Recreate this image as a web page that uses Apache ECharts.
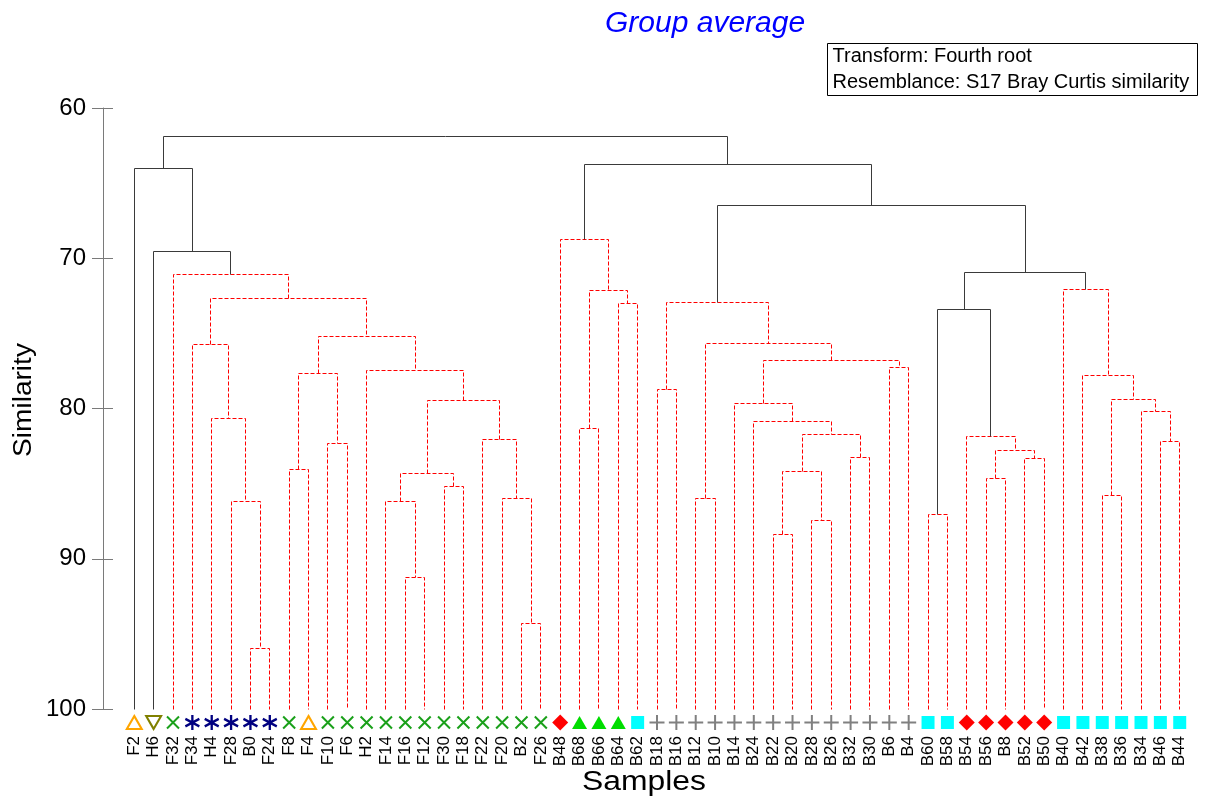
<!DOCTYPE html>
<html>
<head>
<meta charset="utf-8">
<title>Group average</title>
<script src="https://cdn.jsdelivr.net/npm/echarts@6/dist/echarts.min.js"></script>
<style>
  html, body { margin: 0; padding: 0; background: #fff; }
  #chart { width: 1223px; height: 801px; }
</style>
</head>
<body>
<div id="chart"></div>
<script>
// Leaf order of the dendrogram (left to right)
const samples = ['F2','H6','F32','F34','H4','F28','B0','F24','F8','F4','F10','F6','H2','F14','F16','F12','F30','F18','F22','F20','B2','F26',
  'B48','B68','B66','B64','B62','B18','B16','B12','B10','B14','B24','B22','B20','B28','B26','B32','B30','B6','B4',
  'B60','B58','B54','B56','B8','B52','B50','B40','B42','B38','B36','B34','B46','B44'];

// Group of each sample (drives the marker under each leaf)
const sampleGroup = ['A','B','C','D','D','D','D','D','C','A','C','C','C','C','C','C','C','C','C','C','C','C',
  'E','F','F','F','G','H','H','H','H','H','H','H','H','H','H','H','H','H','H',
  'G','G','E','E','E','E','E','G','G','G','G','G','G','G'];

// Agglomeration steps: [child 1, child 2, similarity %]
// a child is a sample name or the index of an earlier step
const merges = [
  ['B0','F24',96.0], ['F28',0,86.18], ['H4',1,80.65], ['F34',2,75.77],
  ['F8','F4',84.05], ['F10','F6',82.34], [4,5,77.68],
  ['F16','F12',91.28], ['F14',7,86.18], ['F30','F18',85.18], [8,9,84.34],
  ['B2','F26',94.28], ['F20',11,85.96], ['F22',12,82.07], [10,13,79.48],
  ['H2',14,77.50], [6,15,75.19], [3,16,72.67], ['F32',17,71.07],
  ['H6',18,69.52], ['F2',19,64.0],
  ['B68','B66',81.34], ['B64','B62',73.04], [21,22,72.16], ['B48',23,68.74],
  ['B18','B16',78.72], ['B12','B10',86.02], ['B22','B20',88.40], ['B28','B26',87.44],
  [27,28,84.16], ['B32','B30',83.27], [29,30,81.72], ['B24',31,80.85], ['B14',32,79.65],
  ['B6','B4',77.26], [33,34,76.79], [26,35,75.69], [25,36,72.93],
  ['B60','B58',87.07], ['B56','B8',84.67], ['B52','B50',83.32], [39,40,82.81],
  ['B54',41,81.85], [38,42,73.40],
  ['B46','B44',82.18], ['B34',44,80.17], ['B38','B36',85.80], [46,45,79.39],
  ['B42',47,77.79], ['B40',48,72.11],
  [43,49,70.92], [37,50,66.48], [24,51,63.75], [20,52,61.91]
];

// Steps with significant internal structure (drawn solid)
const significantSteps = [19, 20, 43, 50, 51, 52, 53];

const yTicks = [60, 70, 80, 90, 100];

// ---- layout helpers: x of a node is the mean of its children's x ----
const leafIndex = {};
samples.forEach((s, i) => { leafIndex[s] = i; });
const stepX = [];
function nodeX(c) { return typeof c === 'string' ? leafIndex[c] : stepX[c]; }
function nodeH(c) { return typeof c === 'string' ? 100 : merges[c][2]; }
merges.forEach((m, i) => { stepX[i] = (nodeX(m[0]) + nodeX(m[1])) / 2; });

const FONT = '"Liberation Sans", Arial, sans-serif';

// marker styles per group
const groupStyle = {
  A: { symbol: 'triangle', size: [15, 13], fill: 'rgba(0,0,0,0)', stroke: '#FFA500', bw: 2, rotate: 0 },
  B: { symbol: 'triangle', size: [15, 13], fill: 'rgba(0,0,0,0)', stroke: '#808000', bw: 2, rotate: 180 },
  C: { symbol: 'path://M0,0L10,10M10,0L0,10', size: [12, 12], fill: 'rgba(0,0,0,0)', stroke: '#1AA01A', bw: 2, rotate: 0 },
  D: { symbol: 'path://M5,0L5,10M0.67,2.5L9.33,7.5M0.67,7.5L9.33,2.5', size: [14, 15], fill: 'rgba(0,0,0,0)', stroke: '#000080', bw: 2.4, rotate: 0 },
  E: { symbol: 'diamond', size: [16, 16], fill: '#FF0000', stroke: '#FF0000', bw: 0, rotate: 0 },
  F: { symbol: 'triangle', size: [15, 13], fill: '#00DD00', stroke: '#00DD00', bw: 0, rotate: 0 },
  G: { symbol: 'rect', size: [13, 13], fill: '#00FFFF', stroke: '#00FFFF', bw: 0, rotate: 0 },
  H: { symbol: 'path://M5,0L5,10M0,5L10,5', size: [15, 15], fill: 'rgba(0,0,0,0)', stroke: '#808080', bw: 2, rotate: 0 }
};

const markerLevel = 100.9;
const groupKeys = ['A','B','C','D','E','F','G','H'];
const markerSeries = groupKeys.map(g => {
  const st = groupStyle[g];
  return {
    type: 'scatter',
    xAxisIndex: 0,
    yAxisIndex: 0,
    clip: false,
    silent: true,
    symbol: st.symbol,
    symbolSize: st.size,
    symbolRotate: st.rotate,
    itemStyle: { color: st.fill, borderColor: st.stroke, borderWidth: st.bw, opacity: 1 },
    data: samples.map((s, i) => sampleGroup[i] === g ? [i, markerLevel] : null).filter(d => d)
  };
});

function crisp(v) { return Math.round(v - 0.5) + 0.5; }

const treeSeries = {
  type: 'custom',
  xAxisIndex: 1,
  yAxisIndex: 0,
  clip: false,
  silent: true,
  data: merges.map((m, i) => [stepX[i], m[2]]),
  renderItem: function (params, api) {
    const i = params.dataIndex;
    const m = merges[i];
    const xa = nodeX(m[0]), xb = nodeX(m[1]);
    const pts = [
      api.coord([xa, nodeH(m[0])]),
      api.coord([xa, m[2]]),
      api.coord([xb, m[2]]),
      api.coord([xb, nodeH(m[1])])
    ].map(p => [crisp(p[0]), crisp(p[1])]);
    const solid = significantSteps.indexOf(i) >= 0;
    return {
      type: 'polyline',
      shape: { points: pts },
      style: {
        fill: null,
        stroke: solid ? '#3a3a3a' : '#FF0000',
        lineWidth: 1,
        lineDash: solid ? null : [4, 2]
      }
    };
  }
};

const chart = echarts.init(document.getElementById('chart'), null, { renderer: 'canvas' });

const gridLeft = 124.6, gridRight = 33.6, gridTop = 108, gridBottom = 92;
const axisX = 103;

chart.setOption({
  animation: false,
  backgroundColor: '#ffffff',
  textStyle: { fontFamily: FONT },
  title: {
    text: 'Group average',
    left: 600,
    top: 4,
    textStyle: { color: '#0000FF', fontStyle: 'italic', fontWeight: 'normal', fontSize: 30, fontFamily: FONT }
  },
  grid: { left: gridLeft, right: gridRight, top: gridTop, bottom: gridBottom, containLabel: false, outerBoundsMode: 'none' },
  xAxis: [
    {
      type: 'category',
      data: samples,
      boundaryGap: true,
      position: 'bottom',
      axisLine: { show: false, onZero: false },
      axisTick: { show: false },
      splitLine: { show: false },
      axisLabel: { rotate: 90, interval: 0, margin: 27, fontSize: 17, color: '#000', fontFamily: FONT }
    },
    {
      type: 'value',
      min: -0.5,
      max: samples.length - 0.5,
      show: false
    }
  ],
  yAxis: [
    {
      type: 'value',
      position: 'left',
      inverse: true,
      min: 60,
      max: 100,
      interval: 10,
      offset: gridLeft - axisX,
      axisLine: { show: true, onZero: false, lineStyle: { color: '#7a7a7a', width: 1 } },
      axisTick: { show: true, inside: false, length: 11, lineStyle: { color: '#7a7a7a' } },
      axisLabel: { margin: 17, fontSize: 24, color: '#000', fontFamily: FONT,
        formatter: v => (yTicks.indexOf(v) >= 0 ? String(v) : '') },
      splitLine: { show: false }
    },
    {
      type: 'value',
      position: 'left',
      inverse: true,
      min: 60,
      max: 100,
      interval: 10,
      offset: gridLeft - axisX,
      axisLine: { show: false, onZero: false },
      axisTick: { show: true, inside: true, length: 10, lineStyle: { color: '#7a7a7a' } },
      axisLabel: { show: false },
      splitLine: { show: false }
    }
  ],
  graphic: [
    {
      type: 'group',
      left: 827,
      top: 43,
      children: [
        { type: 'rect', shape: { x: 0, y: 0, width: 370, height: 52 },
          style: { fill: '#fff', stroke: '#000', lineWidth: 1 } },
        { type: 'text', x: 5, y: 13,
          style: { text: 'Transform: Fourth root', font: '20px ' + FONT, fill: '#000', textVerticalAlign: 'middle' } },
        { type: 'text', x: 5, y: 39,
          style: { text: 'Resemblance: S17 Bray Curtis similarity', font: '20px ' + FONT, fill: '#000', textVerticalAlign: 'middle' } }
      ]
    },
    {
      // vertical axis title
      type: 'text',
      x: 24,
      y: 400,
      rotation: Math.PI / 2,
      scaleX: 1.08,
      style: { text: 'Similarity', font: '26px ' + FONT, fill: '#000', textAlign: 'center', textVerticalAlign: 'middle' }
    },
    {
      // horizontal axis title
      type: 'text',
      x: 644,
      y: 783,
      scaleX: 1.18,
      style: { text: 'Samples', font: '27px ' + FONT, fill: '#000', textAlign: 'center', textVerticalAlign: 'middle' }
    }
  ],
  series: [treeSeries].concat(markerSeries)
});
</script>
</body>
</html>
